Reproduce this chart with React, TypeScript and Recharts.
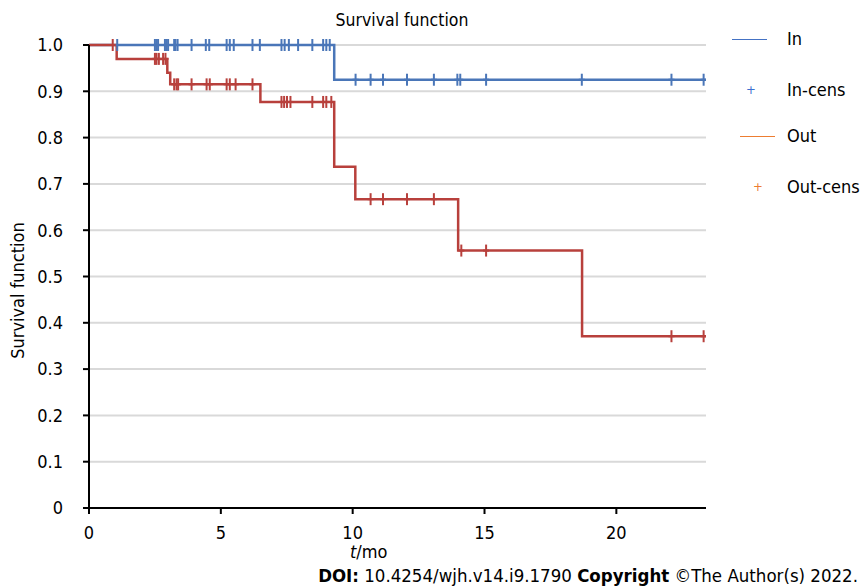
import React from 'react';
import { ComposedChart, Line, Scatter, XAxis, YAxis, CartesianGrid, Legend } from 'recharts';

const FONT = '"DejaVu Sans Condensed", "DejaVu Sans", sans-serif';

const xTicks = [0, 5, 10, 15, 20];
const yTicks = [0, 0.1, 0.2, 0.3, 0.4, 0.5, 0.6, 0.7, 0.8, 0.9, 1.0];

// step curves (time in months, survival)
const inStepTimes = [0, 9.3, 23.4];
const inStepSurv = [1.0, 0.925, 0.925];
const inCensTimes = [
  1.07, 2.5, 2.56, 2.62, 2.88, 2.94, 3.0, 3.23, 3.28, 3.36, 3.89, 4.43, 4.56,
  5.22, 5.34, 5.49, 6.2, 6.48, 7.3, 7.42, 7.58, 7.93, 8.47, 8.88, 9.0, 9.13,
  10.11, 10.68, 11.15, 12.06, 13.08, 13.97, 14.08, 15.06, 18.69, 22.09, 23.31,
];

const outStepTimes = [0, 1.05, 2.97, 3.08, 6.5, 9.3, 10.1, 14.0, 18.7, 23.4];
const outStepSurv = [1.0, 0.97, 0.94, 0.915, 0.877, 0.737, 0.667, 0.556, 0.371, 0.371];
const outCensTimes = [
  0.9, 2.5, 2.56, 2.65, 2.81, 2.9, 3.23, 3.32, 3.38, 3.89, 4.46, 4.58, 5.22,
  5.34, 5.56, 6.2, 7.3, 7.4, 7.51, 7.64, 8.47, 8.88, 9.0, 9.19, 10.68, 11.15,
  12.06, 13.08, 14.12, 15.06, 22.09, 23.31,
];

const IN_COLOR = '#4a76b8';
const OUT_COLOR = '#b8403c';

function survAt(times: number[], surv: number[], t: number) {
  let s = surv[0];
  for (let i = 0; i < times.length; i++) {
    if (times[i] <= t) s = surv[i];
  }
  return s;
}

const inLine = inStepTimes.map((t, i) => ({ t, s: inStepSurv[i] }));
const outLine = outStepTimes.map((t, i) => ({ t, s: outStepSurv[i] }));
const inCens = inCensTimes.map((t) => ({ t, s: survAt(inStepTimes, inStepSurv, t) }));
const outCens = outCensTimes.map((t) => ({ t, s: survAt(outStepTimes, outStepSurv, t) }));

const censMark = (color: string) => (props: any) => {
  const { cx, cy } = props;
  return (
    <g>
      <line x1={cx} x2={cx} y1={cy - 6} y2={cy + 6} stroke={color} strokeWidth={2} />
      <line x1={cx - 3} x2={cx + 3} y1={cy} y2={cy} stroke={color} strokeWidth={2} />
    </g>
  );
};

const legendItems = [
  { label: 'In', kind: 'line', color: '#4472c4', x0: 12, x1: 47 },
  { label: 'In-cens', kind: 'plus', color: '#3b6fd0', x0: 31, x1: 31 },
  { label: 'Out', kind: 'line', color: '#ed7d31', x0: 20, x1: 55 },
  { label: 'Out-cens', kind: 'plus', color: '#ed7d31', x0: 38, x1: 38 },
];
const legendRows = [20, 71, 117, 168];

function LegendBox() {
  return (
    <div style={{ position: 'relative', width: 141, height: 200, fontFamily: FONT, fontSize: 18 }}>
      {legendItems.map((it, i) => (
        <div key={it.label} style={{ position: 'absolute', left: 0, top: legendRows[i] - 12, width: 141, height: 24 }}>
          {it.kind === 'line' ? (
            <div style={{ position: 'absolute', left: it.x0, top: 11, width: it.x1 - it.x0, height: 0, borderTop: `1.5px solid ${it.color}` }} />
          ) : (
            <div style={{ position: 'absolute', left: it.x0 - 5, top: 3, width: 10, textAlign: 'center', color: it.color, fontSize: 13 }}>+</div>
          )}
          <div style={{ position: 'absolute', left: 67, top: 0, whiteSpace: 'nowrap', color: '#000' }}>{it.label}</div>
        </div>
      ))}
    </div>
  );
}

export default function App() {
  return (
    <div style={{ position: 'absolute', left: 0, top: 0, width: 861, height: 588, background: '#fff', overflow: 'hidden' }}>
      <div style={{ position: 'absolute', left: 0, width: 804, top: 10, textAlign: 'center', fontFamily: FONT, fontSize: 17.5 }}>
        Survival function
      </div>
      <ComposedChart
        width={861}
        height={588}
        margin={{ top: 45, right: 155, bottom: 50, left: 29 }}
        style={{ fontFamily: FONT }}
      >
        <CartesianGrid horizontal vertical={false} stroke="#d9d9d9" strokeWidth={2} />
        <XAxis
          type="number"
          dataKey="t"
          domain={[0, 23.4]}
          ticks={xTicks}
          height={30}
          allowDataOverflow
          stroke="#000"
          strokeWidth={2}
          tickSize={6}
          tick={{ fill: '#000', fontSize: 18, dy: 10 }}
        />
        <YAxis
          type="number"
          dataKey="s"
          domain={[0, 1]}
          ticks={yTicks}
          width={60}
          stroke="#000"
          strokeWidth={2}
          tickSize={6}
          tickFormatter={(v: number) => (v === 0 ? '0' : v.toFixed(1))}
          tick={{ fill: '#000', fontSize: 18, dx: -18 }}
          label={{ value: 'Survival function', angle: -90, position: 'insideLeft', dx: -16, dy: 14, style: { fill: '#000', fontSize: 18, textAnchor: 'middle' } }}
        />
        <Legend
          layout="horizontal"
          verticalAlign="middle"
          content={() => <LegendBox />}
          wrapperStyle={{ left: 720, top: 20, width: 141, height: 200 }}
        />
        <Line data={inLine} dataKey="s" type="stepAfter" stroke={IN_COLOR} strokeWidth={2.5} dot={false} isAnimationActive={false} legendType="none" />
        <Scatter data={inCens} dataKey="s" shape={censMark(IN_COLOR)} isAnimationActive={false} legendType="none" />
        <Line data={outLine} dataKey="s" type="stepAfter" stroke={OUT_COLOR} strokeWidth={2.5} dot={false} isAnimationActive={false} legendType="none" />
        <Scatter data={outCens} dataKey="s" shape={censMark(OUT_COLOR)} isAnimationActive={false} legendType="none" />
      </ComposedChart>
      <div style={{ position: 'absolute', left: 350, top: 541, fontFamily: FONT, fontSize: 18 }}>
        <i>t</i>/mo
      </div>
      <div style={{ position: 'absolute', right: 3, top: 565, fontFamily: FONT, fontSize: 18.5, whiteSpace: 'nowrap' }}>
        <b>DOI:</b> 10.4254/wjh.v14.i9.1790 <b>Copyright</b> ©The Author(s) 2022.
      </div>
    </div>
  );
}
